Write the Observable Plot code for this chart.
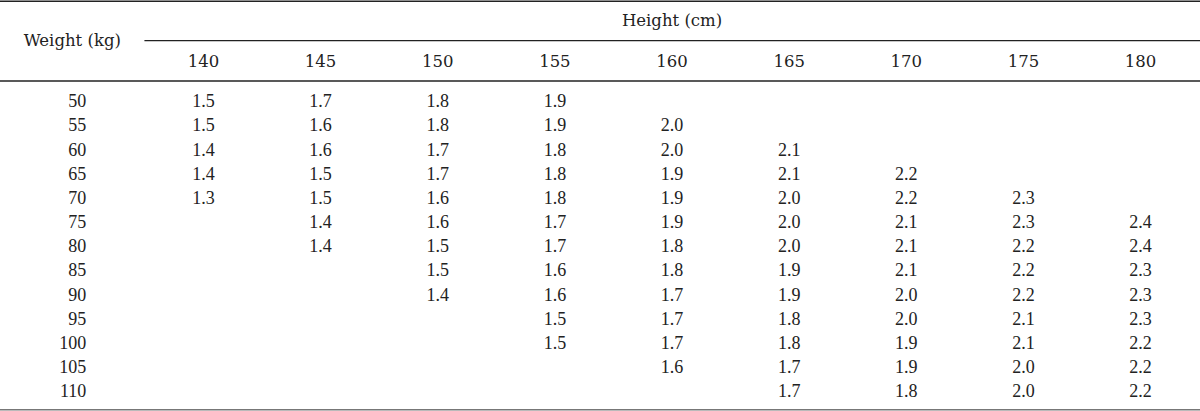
<!DOCTYPE html>
<html>
<head>
<meta charset="utf-8">
<script src="https://cdn.jsdelivr.net/npm/d3@7"></script>
<script src="https://cdn.jsdelivr.net/npm/@observablehq/plot@0.6"></script>
<style>
  html, body { margin: 0; padding: 0; background: #fff; }
</style>
</head>
<body>
<div id="chart"></div>
<script>
// Column (height, cm) and row (weight, kg) categories
const heights = [140, 145, 150, 155, 160, 165, 170, 175, 180];
const weights = [50, 55, 60, 65, 70, 75, 80, 85, 90, 95, 100, 105, 110];

// Values per height column, one entry per weight row (null = empty cell)
const col140 = [1.5, 1.5, 1.4, 1.4, 1.3, null, null, null, null, null, null, null, null];
const col145 = [1.7, 1.6, 1.6, 1.5, 1.5, 1.4, 1.4, null, null, null, null, null, null];
const col150 = [1.8, 1.8, 1.7, 1.7, 1.6, 1.6, 1.5, 1.5, 1.4, null, null, null, null];
const col155 = [1.9, 1.9, 1.8, 1.8, 1.8, 1.7, 1.7, 1.6, 1.6, 1.5, 1.5, null, null];
const col160 = [null, 2.0, 2.0, 1.9, 1.9, 1.9, 1.8, 1.8, 1.7, 1.7, 1.7, 1.6, null];
const col165 = [null, null, 2.1, 2.1, 2.0, 2.0, 2.0, 1.9, 1.9, 1.8, 1.8, 1.7, 1.7];
const col170 = [null, null, null, 2.2, 2.2, 2.1, 2.1, 2.1, 2.0, 2.0, 1.9, 1.9, 1.8];
const col175 = [null, null, null, null, 2.3, 2.3, 2.2, 2.2, 2.2, 2.1, 2.1, 2.0, 2.0];
const col180 = [null, null, null, null, null, 2.4, 2.4, 2.3, 2.3, 2.3, 2.2, 2.2, 2.2];

const columnTitle = "Height (cm)";
const rowTitle = "Weight (kg)";

const columns = [col140, col145, col150, col155, col160, col165, col170, col175, col180];
const cells = [];
columns.forEach((col, ci) => col.forEach((v, ri) => {
  if (v != null) cells.push({height: heights[ci], weight: weights[ri], value: v});
}));

// layout helpers in scale units
const xStep = heights[1] - heights[0];
const yStep = weights[1] - weights[0];
const xMin = heights[0] - 1.733 * xStep;
const xMax = heights[heights.length - 1] + 0.512 * xStep;
const yMin = weights[0] - 4.18 * yStep;
const yMax = weights[weights.length - 1] + 0.83 * yStep;
const rowLabelX = heights[0] - 1.0 * xStep;
const rowTitleX = heights[0] - 1.12 * xStep;
const dividerX = heights[0] - 0.5 * xStep;
const headerY = weights[0] - 1.66 * yStep;
const titleY = weights[0] - 3.35 * yStep;
const subRuleY = weights[0] - 2.52 * yStep;
const headRuleY = weights[0] - 0.85 * yStep;
const topRuleY = weights[0] - 4.15 * yStep;
const bottomRuleY = weights[weights.length - 1] + 0.76 * yStep;

const headFont = "DejaVu Serif";
const bodyFont = "Liberation Serif";

const chart = Plot.plot({
  width: 1200,
  height: 411,
  margin: 0,
  x: {domain: [xMin, xMax], axis: null},
  y: {domain: [yMin, yMax], reverse: true, axis: null},
  style: {background: "#fff"},
  marks: [
    Plot.ruleY([topRuleY], {stroke: "#222", strokeWidth: 1.5}),
    Plot.ruleY([subRuleY], {x1: dividerX, x2: xMax, stroke: "#222", strokeWidth: 1.2}),
    Plot.ruleY([headRuleY], {stroke: "#222", strokeWidth: 1.5}),
    Plot.ruleY([bottomRuleY], {stroke: "#777", strokeWidth: 1.5}),
    Plot.text([columnTitle], {x: (heights[0] + heights[heights.length - 1]) / 2, y: titleY, text: d => d,
      fontFamily: headFont, fontSize: 16.5, fill: "#222"}),
    Plot.text([rowTitle], {x: rowTitleX, y: subRuleY, text: d => d,
      fontFamily: headFont, fontSize: 16.5, fill: "#222"}),
    Plot.text(heights, {x: d => d, y: headerY, text: d => String(d),
      fontFamily: headFont, fontSize: 16.5, fill: "#222"}),
    Plot.text(weights, {x: rowLabelX, y: d => d, text: d => String(d), textAnchor: "end",
      fontFamily: bodyFont, fontSize: 18, fill: "#222"}),
    Plot.text(cells, {x: "height", y: "weight", text: d => d.value.toFixed(1),
      fontFamily: bodyFont, fontSize: 18, fill: "#222"})
  ]
});
document.getElementById("chart").appendChild(chart);
</script>
</body>
</html>
